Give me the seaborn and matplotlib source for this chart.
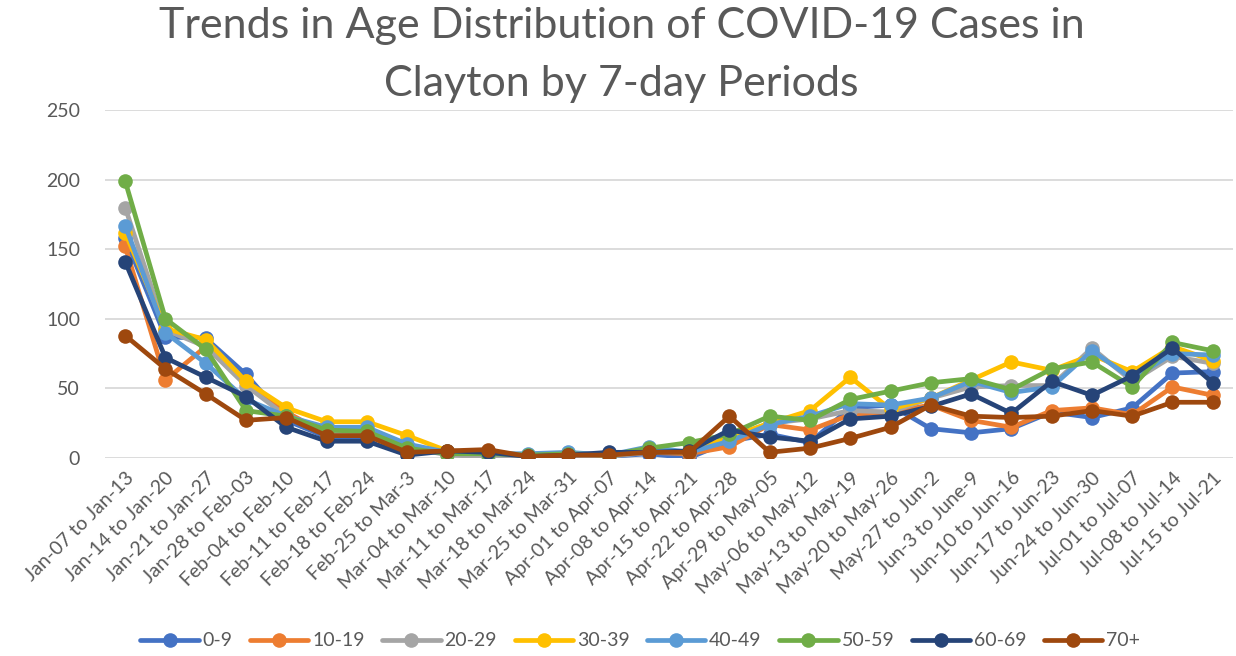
import matplotlib
matplotlib.use("Agg")
import matplotlib.pyplot as plt
import seaborn as sns
import pandas as pd
import numpy as np

periods = ["Jan-07 to Jan-13", "Jan-14 to Jan-20", "Jan-21 to Jan-27", "Jan-28 to Feb-03",
           "Feb-04 to Feb-10", "Feb-11 to Feb-17", "Feb-18 to Feb-24", "Feb-25 to Mar-3",
           "Mar-04 to Mar-10", "Mar-11 to Mar-17", "Mar-18 to Mar-24", "Mar-25 to Mar-31",
           "Apr-01 to Apr-07", "Apr-08 to Apr-14", "Apr-15 to Apr-21", "Apr-22 to Apr-28",
           "Apr-29 to May-05", "May-06 to May-12", "May-13 to May-19", "May-20 to May-26",
           "May-27 to Jun-2", "Jun-3 to June-9", "Jun-10 to Jun-16", "Jun-17 to Jun-23",
           "Jun-24 to Jun-30", "Jul-01 to Jul-07", "Jul-08 to Jul-14", "Jul-15 to Jul-21"]

age_0_9   = [158, 87, 86, 60, 27, 15, 15, 8, 4, 3, 2, 2, 1, 3, 0, 12, 17, 11, 36, 38, 21, 18, 21, 33, 29, 36, 61, 62]
age_10_19 = [152, 56, 80, 55, 33, 17, 17, 6, 4, 3, 2, 3, 2, 4, 3, 8, 24, 20, 31, 33, 38, 27, 22, 34, 36, 31, 51, 45]
age_20_29 = [180, 92, 80, 52, 30, 18, 18, 8, 2, 1, 1, 2, 1, 4, 4, 14, 25, 28, 34, 33, 43, 51, 52, 52, 79, 55, 73, 68]
age_30_39 = [162, 93, 85, 55, 36, 26, 26, 16, 5, 4, 2, 3, 2, 5, 4, 15, 25, 34, 58, 35, 43, 56, 69, 63, 74, 62, 80, 70]
age_40_49 = [167, 90, 68, 42, 30, 22, 22, 10, 4, 3, 3, 4, 2, 8, 4, 12, 24, 30, 39, 38, 43, 55, 47, 51, 77, 57, 75, 74]
age_50_59 = [199, 100, 78, 34, 30, 20, 19, 7, 3, 3, 2, 3, 2, 7, 11, 17, 30, 27, 42, 48, 54, 57, 49, 64, 69, 51, 83, 77]
age_60_69 = [141, 72, 58, 44, 22, 12, 12, 2, 5, 4, 1, 2, 4, 4, 5, 20, 15, 12, 28, 30, 37, 46, 32, 55, 45, 59, 79, 54]
age_70p   = [88, 64, 46, 27, 29, 16, 16, 4, 5, 6, 1, 2, 2, 4, 4, 30, 4, 7, 14, 22, 38, 30, 29, 30, 34, 30, 40, 40]

groups = ["0-9", "10-19", "20-29", "30-39", "40-49", "50-59", "60-69", "70+"]
series = [age_0_9, age_10_19, age_20_29, age_30_39, age_40_49, age_50_59, age_60_69, age_70p]
colors = ["#4472C4", "#ED7D31", "#A5A5A5", "#FFC000", "#5B9BD5", "#70AD47", "#264478", "#9E480E"]
yticks = [0, 50, 100, 150, 200, 250]

rows = []
for g, vals in zip(groups, series):
    for i, v in enumerate(vals):
        rows.append({"idx": i, "cases": v, "group": g})
df = pd.DataFrame(rows)

sns.set_theme(style="white")
plt.rcParams["font.family"] = ["Lato", "DejaVu Sans"]

fig = plt.figure(figsize=(12.36, 6.56), dpi=100)
ax = fig.add_axes([0.085, 0.302, 0.9125, 0.530])

sns.lineplot(data=df, x="idx", y="cases", hue="group", hue_order=groups,
             palette=dict(zip(groups, colors)), marker="o", markersize=10.5,
             markeredgewidth=0, linewidth=3.4, ax=ax, legend=True)

ax.set_xlim(-0.5, len(periods) - 0.5)
ax.set_ylim(0, 250)
ax.set_yticks(yticks)
ax.set_yticklabels([str(t) for t in yticks], fontsize=14, color="#595959")
ax.set_xticks(range(len(periods)))
ax.set_xticklabels(periods, rotation=45, ha="right", rotation_mode="anchor",
                   fontsize=14, color="#595959")
ax.tick_params(axis="y", length=0, pad=18)
ax.tick_params(axis="x", length=0, pad=8)
ax.yaxis.grid(True, color="#D9D9D9", linewidth=1.3)
ax.set_axisbelow(True)
for s in ax.spines.values():
    s.set_visible(False)
ax.set_xlabel("")
ax.set_ylabel("")

handles, labels = ax.get_legend_handles_labels()
ax.legend(handles, labels, loc="center", bbox_to_anchor=(0.518, 0.023),
          bbox_transform=fig.transFigure, ncol=8, frameon=False,
          fontsize=14, labelcolor="#595959", handlelength=3, columnspacing=0.9,
          handletextpad=0.2)

fig.suptitle("Trends in Age Distribution of COVID-19 Cases in\nClayton by 7-day Periods",
             x=0.503, y=0.99, fontsize=31, color="#595959", linespacing=1.65)

fig.savefig("out.png", dpi=100)
